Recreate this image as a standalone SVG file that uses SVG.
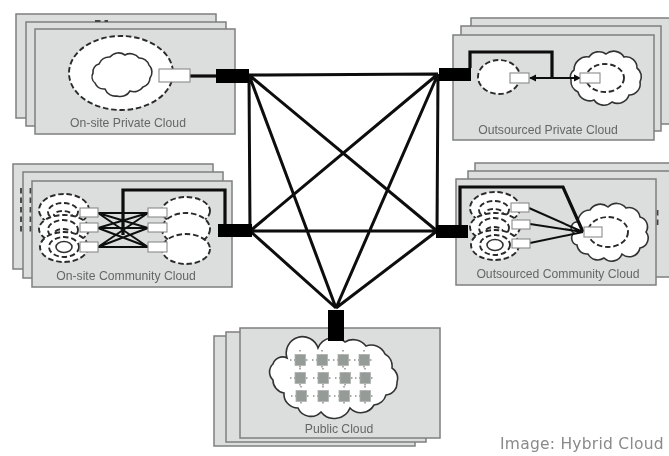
<svg xmlns="http://www.w3.org/2000/svg" width="669" height="456" viewBox="0 0 669 456">
<style>
.p{fill:#dcdddd;stroke:#7f7f7f;stroke-width:1.5}
.d{fill:#fff;stroke:#2b2b2b;stroke-width:1.9;stroke-dasharray:5.5 2.8}
.dn{fill:none;stroke:#444;stroke-width:1.9;stroke-dasharray:5.5 4}
.c{fill:#fff;stroke:#333;stroke-width:1.6}
.b{fill:#fff;stroke:#8a8a8a;stroke-width:1.1}
.h{fill:#000}
.t{font-family:"Liberation Sans",Arial,sans-serif;font-size:12.2px;fill:#666;text-anchor:middle}
.l{fill:none;stroke:#0a0a0a;stroke-width:3}
.k{fill:none;stroke:#0a0a0a;stroke-width:3.2}
.n{fill:none;stroke:#111;stroke-width:2}
.g{fill:#959b97;stroke:#aeb2af;stroke-width:.8}
.gl{fill:none;stroke:#555;stroke-width:1;stroke-dasharray:1.5 2.5}
</style>
<defs>
<filter id="s" x="-5%" y="-5%" width="110%" height="110%"><feGaussianBlur stdDeviation="0.45"/></filter>
<marker id="a" viewBox="0 0 6 6" markerWidth="3.6" markerHeight="3.6" refX="5" refY="3" orient="auto-start-reverse"><path d="M0 0L6 3L0 6Z" fill="#111"/></marker>
<g id="cluster">
<ellipse class="d" cx="0" cy="0" rx="25" ry="16"/><ellipse class="d" cx="-1" cy="2" rx="15" ry="9"/><ellipse class="d" cx="-1" cy="5" rx="9" ry="4"/>
<ellipse class="d" cx="0" cy="19" rx="25" ry="14"/><ellipse class="d" cx="-1" cy="20" rx="15" ry="10"/><ellipse class="d" cx="-1" cy="24" rx="9" ry="5"/>
<ellipse class="d" cx="0" cy="37" rx="24" ry="15"/><ellipse class="d" cx="0" cy="37" rx="15" ry="10"/><ellipse class="c" cx="0" cy="37" rx="8" ry="5.5"/>
</g>
<g id="srv"><path class="gl" d="M-10 0H10M0 -10V10"/><rect class="g" x="-5" y="-5.5" width="10.5" height="11"/></g>
</defs>
<g filter="url(#s)">
<g id="connectors">
<path class="l" d="M249 75L438 74M250 231L437 231M249 75L250 231M438 74L437 231M249 75L437 231M438 74L250 231M249 75L336 308M438 74L336 308M250 231L336 308M437 231L336 308"/>
</g>
<g id="onsite-private">
<rect class="p" x="16" y="14" width="200" height="104"/><rect class="p" x="26" y="22" width="200" height="104"/>
<path class="dn" d="M95 21H108"/>
<rect class="p" x="35" y="29" width="200" height="105"/>
<ellipse class="d" cx="121" cy="73" rx="52" ry="37"/>
<path class="c" d="M99 64A11 11 0 0 1 110 57A11 11 0 0 1 125 55A11 11 0 0 1 139 58A10 10 0 0 1 149 65A10 10 0 0 1 150 78A10 10 0 0 1 143 87A11 11 0 0 1 130 91A11 11 0 0 1 117 96A11 11 0 0 1 105 89A10 10 0 0 1 95 83A8 8 0 0 1 93 73A8 8 0 0 1 99 64Z"/>
<path class="k" d="M190 76H217"/>
<rect class="b" x="159" y="69" width="31" height="13"/>
<rect class="h" x="216" y="69" width="33" height="14"/>
<text class="t" x="128" y="127">On-site Private Cloud</text>
</g>
<g id="outsourced-private">
<rect class="p" x="471" y="18" width="210" height="106"/><rect class="p" x="461" y="26" width="200" height="105"/><rect class="p" x="453" y="35" width="201" height="105"/>
<ellipse class="d" cx="499" cy="77" rx="21" ry="17"/>
<path class="c" d="M574 70A13 13 0 0 1 589 57A12 12 0 0 1 606 54A12 12 0 0 1 624 57A11 11 0 0 1 637 68A11 11 0 0 1 640 82A11 11 0 0 1 629 95A12 12 0 0 1 612 102A12 12 0 0 1 594 100A12 12 0 0 1 578 92A12 12 0 0 1 571 80A8 8 0 0 1 574 70Z"/>
<ellipse class="d" cx="605" cy="78" rx="19" ry="14"/>
<path class="k" d="M470 68V52H552V78"/>
<path class="n" d="M530 78H580" marker-start="url(#a)" marker-end="url(#a)"/>
<rect class="b" x="510" y="73" width="19" height="10"/><rect class="b" x="580" y="73" width="20" height="10"/>
<rect class="h" x="439" y="68" width="32" height="13"/>
<text class="t" x="548" y="134">Outsourced Private Cloud</text>
</g>
<g id="onsite-community">
<rect class="p" x="13" y="164" width="200" height="105"/>
<path class="dn" d="M21 188V232"/>
<rect class="p" x="23" y="172" width="200" height="106"/>
<path class="dn" d="M30.500 188V232"/>
<rect class="p" x="32" y="181" width="200" height="106"/>
<use href="#cluster" x="64" y="210"/>
<ellipse class="d" cx="186" cy="211" rx="24" ry="14"/><ellipse class="d" cx="186" cy="229" rx="24" ry="16"/><ellipse class="d" cx="186" cy="249" rx="24" ry="15"/>
<path class="n" d="M98 213H148M98 213L148 228M98 213L148 247M98 228L148 213M98 228H148M98 228L148 247M98 247L148 213M98 247L148 228M98 247H148"/>
<path class="k" d="M123 235V190H225V225"/>
<rect class="b" x="80" y="208" width="18" height="9"/><rect class="b" x="80" y="223" width="18" height="9"/><rect class="b" x="80" y="242" width="18" height="10"/>
<rect class="b" x="148" y="208" width="19" height="9"/><rect class="b" x="148" y="223" width="19" height="9"/><rect class="b" x="148" y="242" width="19" height="10"/>
<rect class="h" x="218" y="224" width="34" height="13"/>
<text class="t" x="126" y="280">On-site Community Cloud</text>
</g>
<g id="outsourced-community">
<rect class="p" x="475" y="163" width="210" height="105"/><rect class="p" x="468" y="171" width="210" height="106"/>
<path class="dn" d="M657.500 210V228"/>
<rect class="p" x="456" y="179" width="200" height="106"/>
<use href="#cluster" x="495" y="208"/>
<path class="c" d="M578 222A12 12 0 0 1 590 210A12 12 0 0 1 608 207A12 12 0 0 1 626 208A11 11 0 0 1 640 217A10 10 0 0 1 646 232A10 10 0 0 1 640 248A11 11 0 0 1 622 254A11 11 0 0 1 604 258A11 11 0 0 1 588 254A10 10 0 0 1 577 245A7 7 0 0 1 574 233A6 6 0 0 1 578 222Z"/>
<ellipse class="d" cx="608" cy="232" rx="20" ry="15"/>
<path class="n" d="M529 208L583 232M530 224L583 232M530 243L583 232"/>
<path class="k" d="M460 225V187H563L583 232"/>
<rect class="b" x="511" y="203" width="18" height="9"/><rect class="b" x="512" y="220" width="18" height="9"/><rect class="b" x="512" y="239" width="18" height="9"/><rect class="b" x="584" y="227" width="18" height="10"/>
<rect class="h" x="436" y="225" width="32" height="13"/>
<text class="t" x="558" y="278">Outsourced Community Cloud</text>
</g>
<g id="public">
<rect class="p" x="214" y="336" width="201" height="110"/><rect class="p" x="226" y="332" width="200" height="110"/><rect class="p" x="240" y="328" width="200" height="110"/>
<path class="c" d="M287 358A15 15 0 0 1 318 348A17 17 0 0 1 345 342A16 16 0 0 1 366 346A15 15 0 0 1 385 354A14 14 0 0 1 392 368A12 12 0 0 1 397 382A12 12 0 0 1 386 395A14 14 0 0 1 374 405A15 15 0 0 1 350 408A17 17 0 0 1 321 412A14 14 0 0 1 298 408A14 14 0 0 1 284 393A13 13 0 0 1 273 380A11 11 0 0 1 273 364A10 10 0 0 1 287 358Z"/>
<use href="#srv" x="300" y="360"/><use href="#srv" x="322" y="360"/><use href="#srv" x="343" y="360"/><use href="#srv" x="364" y="360"/>
<use href="#srv" x="300" y="378"/><use href="#srv" x="323" y="378"/><use href="#srv" x="345" y="378"/><use href="#srv" x="365" y="378"/>
<use href="#srv" x="301" y="396"/><use href="#srv" x="323" y="396"/><use href="#srv" x="344" y="396"/><use href="#srv" x="365" y="396"/>
<rect class="h" x="328" y="310" width="16" height="31"/>
<text class="t" x="339" y="433">Public Cloud</text>
</g>
</g>
<text x="500" y="449" style="font-family:'DejaVu Sans',sans-serif;font-size:15.500px;letter-spacing:.25px;fill:#8a8a8a">Image: Hybrid Cloud</text>
</svg>
